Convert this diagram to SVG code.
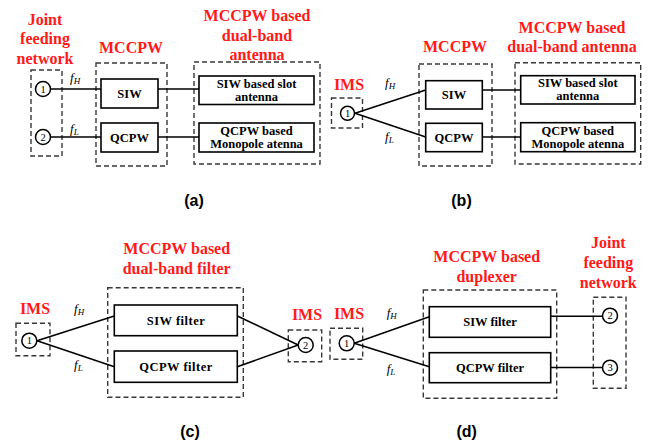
<svg xmlns="http://www.w3.org/2000/svg" width="653" height="445" viewBox="0 0 653 445">
<style>
.bg{fill:#fff}
.dash{fill:none;stroke:#383838;stroke-width:1.4;stroke-dasharray:5,3}
.box{fill:#fff;stroke:#000;stroke-width:1.6}
.port{fill:#fff;stroke:#000;stroke-width:1.5}
.wire{fill:none;stroke:#000;stroke-width:1.6}
.red{font-family:"Liberation Serif",serif;font-weight:bold;font-size:16px;fill:#ff1a1a;text-anchor:middle}
.bt{font-family:"Liberation Serif",serif;font-weight:bold;font-size:12.5px;fill:#000;text-anchor:middle}
.wide{letter-spacing:0.5px}
.num{font-family:"Liberation Serif",serif;font-size:10.5px;fill:#000;text-anchor:middle}
.f{font-family:"Liberation Serif",serif;font-style:italic;font-size:13px;fill:#000}
.sub{font-size:9px}
.cap{font-family:"Liberation Sans",Arial,sans-serif;font-weight:bold;font-size:16px;fill:#000;text-anchor:middle}
</style>
<rect class="bg" width="653" height="445"/>

<!-- Panel (a) -->
<g id="a-joint">
<text class="red" x="45" y="24.5">Joint</text>
<text class="red" x="45" y="44">feeding</text>
<text class="red" x="45" y="63.5">network</text>
<rect class="dash" x="31" y="70" width="31" height="86"/>
</g>
<g id="a-port1"><circle class="port" cx="43" cy="89" r="7.5"/><text class="num" x="43" y="92.5">1</text></g>
<g id="a-port2"><circle class="port" cx="43" cy="137" r="7.5"/><text class="num" x="43" y="140.5">2</text></g>
<g id="a-mccpw">
<text class="red" x="131" y="53">MCCPW</text>
<rect class="dash" x="96" y="63" width="71" height="103"/>
</g>
<g id="a-siw"><rect class="box" x="101" y="79" width="57" height="29"/><text class="bt" x="129.5" y="98">SIW</text></g>
<g id="a-qcpw"><rect class="box" x="101" y="123" width="57" height="29"/><text class="bt" x="129.5" y="142">QCPW</text></g>
<g id="a-antenna">
<text class="red" x="257" y="21">MCCPW based</text>
<text class="red" x="257" y="40.5">dual-band</text>
<text class="red" x="257" y="60">antenna</text>
<rect class="dash" x="194" y="62" width="126" height="102"/>
</g>
<g id="a-slot"><rect class="box" x="199" y="76" width="115" height="28.5"/><text class="bt" x="256.5" y="87.5">SIW based slot</text><text class="bt" x="256.5" y="100.5">antenna</text></g>
<g id="a-mono"><rect class="box" x="199" y="123" width="115" height="29"/><text class="bt" x="256.5" y="135">QCPW based</text><text class="bt" x="256.5" y="148">Monopole atenna</text></g>
<text class="cap" x="194" y="206">(a)</text>

<!-- Panel (b) -->
<g id="b-ims">
<text class="red" x="349" y="90">IMS</text>
<rect class="dash" x="331.5" y="98" width="31" height="30"/>
</g>
<g id="b-port1"><circle class="port" cx="347.5" cy="113.3" r="7"/><text class="num" x="347.5" y="116.8">1</text></g>
<g id="b-mccpw">
<text class="red" x="455" y="52">MCCPW</text>
<rect class="dash" x="419" y="64" width="73" height="102"/>
</g>
<g id="b-siw"><rect class="box" x="425.7" y="80.7" width="56.6" height="28.3"/><text class="bt" x="454" y="99.3">SIW</text></g>
<g id="b-qcpw"><rect class="box" x="425.7" y="123.3" width="56.6" height="28.4"/><text class="bt" x="454" y="142">QCPW</text></g>
<g id="b-antenna">
<text class="red" x="572" y="32.5">MCCPW based</text>
<text class="red" x="572" y="52">dual-band antenna</text>
<rect class="dash" x="515" y="62.7" width="125.7" height="101.3"/>
</g>
<g id="b-slot"><rect class="box" x="520.7" y="75.7" width="114.3" height="28.3"/><text class="bt" x="577.8" y="87.3">SIW based slot</text><text class="bt" x="577.8" y="100.3">antenna</text></g>
<g id="b-mono"><rect class="box" x="520.7" y="122.7" width="114.3" height="29"/><text class="bt" x="577.8" y="134.7">QCPW based</text><text class="bt" x="577.8" y="147.7">Monopole atenna</text></g>
<text class="cap" x="461.5" y="206">(b)</text>

<!-- Panel (c) -->
<g id="c-ims1">
<text class="red" x="35" y="314">IMS</text>
<rect class="dash" x="16" y="323.3" width="34" height="32.4"/>
</g>
<g id="c-port1"><circle class="port" cx="29.3" cy="340.7" r="7.5"/><text class="num" x="29.3" y="344.2">1</text></g>
<g id="c-filter">
<text class="red" x="176.7" y="254.3">MCCPW based</text>
<text class="red" x="176.7" y="274">dual-band filter</text>
<rect class="dash" x="107.7" y="287.7" width="135.6" height="109.6"/>
</g>
<g id="c-siw"><rect class="box" x="114.3" y="305" width="123" height="30.7"/><text class="bt wide" x="176" y="324.5">SIW filter</text></g>
<g id="c-qcpw"><rect class="box" x="114.3" y="351" width="123" height="31.3"/><text class="bt wide" x="176" y="370.8">QCPW filter</text></g>
<g id="c-ims2">
<text class="red" x="307" y="320">IMS</text>
<rect class="dash" x="288.3" y="330" width="33.4" height="31.7"/>
</g>
<g id="c-port2"><circle class="port" cx="305.7" cy="345" r="7.5"/><text class="num" x="305.7" y="348.5">2</text></g>
<text class="cap" x="190" y="437">(c)</text>

<!-- Panel (d) -->
<g id="d-ims">
<text class="red" x="349" y="319">IMS</text>
<rect class="dash" x="330" y="328.3" width="32.7" height="31"/>
</g>
<g id="d-port1"><circle class="port" cx="346.7" cy="343.3" r="7.5"/><text class="num" x="346.7" y="346.8">1</text></g>
<g id="d-duplexer">
<text class="red" x="486.7" y="261.7">MCCPW based</text>
<text class="red" x="486.7" y="281.7">duplexer</text>
<rect class="dash" x="423.3" y="290" width="133.4" height="108.3"/>
</g>
<g id="d-siw"><rect class="box" x="429.3" y="306.7" width="121.4" height="30.6"/><text class="bt" x="490" y="326">SIW filter</text></g>
<g id="d-qcpw"><rect class="box" x="429.3" y="352.7" width="121.4" height="30"/><text class="bt" x="490" y="371.7">QCPW filter</text></g>
<g id="d-joint">
<text class="red" x="608.3" y="247.7">Joint</text>
<text class="red" x="608.3" y="268.3">feeding</text>
<text class="red" x="608.3" y="288.3">network</text>
<rect class="dash" x="593.3" y="297.3" width="32.7" height="91"/>
</g>
<g id="d-port2"><circle class="port" cx="610" cy="315.7" r="7.5"/><text class="num" x="610" y="319.2">2</text></g>
<g id="d-port3"><circle class="port" cx="610" cy="367.7" r="7.5"/><text class="num" x="610" y="371.2">3</text></g>
<text class="cap" x="466.7" y="437">(d)</text>

<!-- connectors -->
<g id="connectors">
<line class="wire" x1="50.5" y1="89" x2="101" y2="89"/>
<line class="wire" x1="50.5" y1="137" x2="101" y2="137"/>
<line class="wire" x1="158" y1="89" x2="199" y2="89"/>
<line class="wire" x1="158" y1="137" x2="199" y2="137"/>
<line class="wire" x1="355" y1="113.3" x2="425.7" y2="90"/>
<line class="wire" x1="355" y1="113.3" x2="425.7" y2="137"/>
<line class="wire" x1="482.3" y1="90" x2="520.7" y2="90"/>
<line class="wire" x1="482.3" y1="137" x2="520.7" y2="137"/>
<line class="wire" x1="37" y1="340.7" x2="114.3" y2="316"/>
<line class="wire" x1="37" y1="340.7" x2="114.3" y2="366.7"/>
<line class="wire" x1="237.3" y1="316" x2="298.2" y2="345"/>
<line class="wire" x1="237.3" y1="366.7" x2="298.2" y2="345"/>
<line class="wire" x1="354.2" y1="343.3" x2="429.3" y2="316.7"/>
<line class="wire" x1="354.2" y1="343.3" x2="429.3" y2="366.7"/>
<line class="wire" x1="550.7" y1="316.2" x2="602.5" y2="316.2"/>
<line class="wire" x1="550.7" y1="367.5" x2="602.5" y2="367.5"/>
</g>
<g id="labels">
<text class="f" x="70" y="82">f<tspan class="sub" dy="2">H</tspan></text>
<text class="f" x="70" y="133">f<tspan class="sub" dy="2">L</tspan></text>
<text class="f" x="385" y="87">f<tspan class="sub" dy="2">H</tspan></text>
<text class="f" x="385" y="141">f<tspan class="sub" dy="2">L</tspan></text>
<text class="f" x="74" y="313">f<tspan class="sub" dy="2">H</tspan></text>
<text class="f" x="74" y="369">f<tspan class="sub" dy="2">L</tspan></text>
<text class="f" x="386.7" y="317">f<tspan class="sub" dy="2">H</tspan></text>
<text class="f" x="386.7" y="373">f<tspan class="sub" dy="2">L</tspan></text>
</g>
</svg>
